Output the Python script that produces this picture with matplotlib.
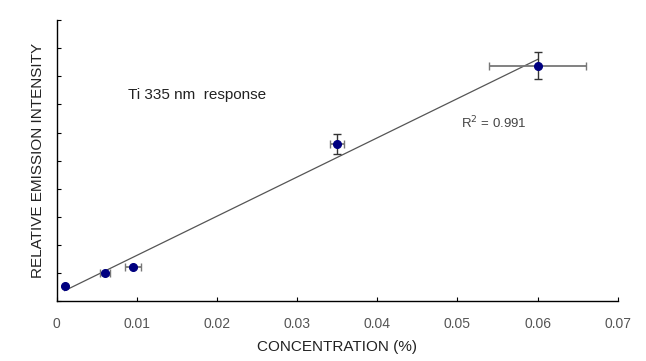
import numpy as np
import matplotlib
matplotlib.use("Agg")
import matplotlib.pyplot as plt

plt.rcParams['font.family'] = ['Liberation Sans', 'DejaVu Sans']

# concentration (%) and relative emission intensity
conc = [0.001, 0.006, 0.0095, 0.035, 0.060]
intensity = [0.54, 1.00, 1.22, 5.59, 8.38]
conc_err = [0.0, 0.0006, 0.0010, 0.0009, 0.0060]
int_err = [0.0, 0.05, 0.05, 0.36, 0.48]
x_ticks = [0, 0.01, 0.02, 0.03, 0.04, 0.05, 0.06, 0.07]
x_labels = ['0', '0.01', '0.02', '0.03', '0.04', '0.05', '0.06', '0.07']

fig = plt.figure(figsize=(6.46, 3.61), dpi=100)
ax = fig.add_axes([0.0878, 0.1654, 0.8684, 0.7792])

# linear trend line over the data range
slope, intercept = np.polyfit(conc, intensity, 1)
xs = np.array([conc[0], conc[-1]])
ax.plot(xs, slope * xs + intercept, color='#555555', lw=0.9, zorder=2)

# error bars: x in gray, y in dark
ax.errorbar(conc, intensity, xerr=conc_err, fmt='none', ecolor='#777777',
            elinewidth=1.3, capsize=3, capthick=1, zorder=3)
ax.errorbar(conc, intensity, yerr=int_err, fmt='none', ecolor='#333333',
            elinewidth=1.0, capsize=3, capthick=1, zorder=3)
ax.plot(conc, intensity, 'o', color='#000080', ms=5.5, zorder=4)

ax.text(0.0089, 7.34, 'Ti 335 nm  response', fontsize=11, color='#222222', va='center')
ax.text(0.0505, 6.34, r'R$^2$ = 0.991', fontsize=9.5, color='#444444', va='center')

ax.set_xlim(0, 0.07)
ax.set_ylim(0, 10)
ax.set_xticks(x_ticks)
ax.set_xticklabels(x_labels, color='#555555', fontsize=10)
ax.set_yticks(range(0, 11))
ax.set_yticklabels([])
ax.tick_params(direction='in', length=3, width=0.8)
ax.tick_params(axis='x', pad=11)
for s in ['top', 'right']:
    ax.spines[s].set_visible(False)
for s in ['left', 'bottom']:
    ax.spines[s].set_linewidth(1.0)

ax.set_xlabel('CONCENTRATION (%)', fontsize=11, color='#222222', labelpad=7)
ax.set_ylabel('RELATIVE EMISSION INTENSITY', fontsize=11, color='#222222', labelpad=5)

fig.savefig('out.png', dpi=100)
